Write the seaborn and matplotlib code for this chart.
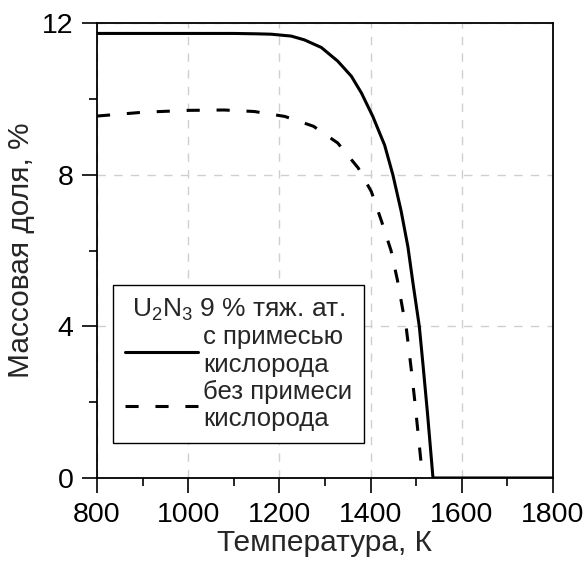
import numpy as np
import pandas as pd
import matplotlib
matplotlib.use('Agg')
import matplotlib.pyplot as plt
from matplotlib.ticker import MultipleLocator
import seaborn as sns

# Data
temp_with_o = [800, 1000, 1100, 1150, 1182, 1226, 1255, 1292, 1328, 1358, 1380,
               1405, 1431, 1449, 1467, 1482, 1493, 1507, 1515, 1525, 1537,
               1600, 1700, 1800]
mass_with_o = [11.73, 11.73, 11.73, 11.72, 11.71, 11.66, 11.56, 11.36, 11.0, 10.6, 10.16,
               9.54, 8.78, 8.0, 7.05, 6.1, 5.15, 4.0, 3.0, 1.7, 0.0,
               0.0, 0.0, 0.0]

temp_no_o = [800, 900, 1000, 1079, 1145, 1212, 1275, 1328, 1373, 1402, 1424,
             1445, 1459, 1471, 1478, 1490, 1497, 1505, 1512]
mass_no_o = [9.55, 9.65, 9.7, 9.71, 9.67, 9.54, 9.28, 8.84, 8.18, 7.55, 6.78,
             6.0, 5.22, 4.42, 4.0, 2.8, 2.04, 1.1, 0.27]

label_with_o = 'с примесью\nкислорода'
label_no_o = 'без примеси\nкислорода'
legend_title = 'U$_2$N$_3$ 9 % тяж. ат.'
x_label = 'Температура, К'
y_label = 'Массовая доля, %'

sns.set_style('white')
plt.rcParams['font.family'] = ['Liberation Sans', 'DejaVu Sans']
plt.rcParams['mathtext.default'] = 'regular'

fig = plt.figure(figsize=(5.86, 5.66), dpi=100)
ax = fig.add_axes([0.1655, 0.1555, 0.778, 0.8035])

sns.lineplot(x=temp_with_o, y=mass_with_o, ax=ax, color='black', lw=2.2,
             label=label_with_o, sort=False)
sns.lineplot(x=temp_no_o, y=mass_no_o, ax=ax, color='black', lw=2.2,
             label=label_no_o, sort=False)
ax.lines[1].set_linestyle((0, (4.3, 5.5)))

ax.set_xlim(800, 1800)
ax.set_ylim(0, 12)
ax.xaxis.set_major_locator(MultipleLocator(200))
ax.xaxis.set_minor_locator(MultipleLocator(100))
ax.yaxis.set_major_locator(MultipleLocator(4))
ax.yaxis.set_minor_locator(MultipleLocator(2))

ax.tick_params(which='major', direction='out', length=11, width=1.2,
               labelsize=20.5, pad=6, bottom=True, left=True, colors='black')
ax.tick_params(which='minor', direction='out', length=5.5, width=1.2,
               bottom=True, left=True, colors='black')

for s in ax.spines.values():
    s.set_color('black')
    s.set_linewidth(1.3)

ax.grid(True, which='major', color='#cfcfcf', lw=1, ls=(0, (6, 6)))
ax.set_axisbelow(True)

ax.set_xlabel(x_label, fontsize=21.5, labelpad=1)
ax.set_ylabel(y_label, fontsize=21.5, labelpad=5)

leg = ax.legend(title=legend_title, loc='lower left', bbox_to_anchor=(0.035, 0.077),
                borderaxespad=0, fontsize=18.5, title_fontsize=19, handlelength=2.85,
                handletextpad=0.2, labelspacing=0.1, borderpad=0.45,
                fancybox=False, framealpha=1, edgecolor='black')
leg.get_frame().set_linewidth(1.0)

fig.savefig('out.png', dpi=100)
